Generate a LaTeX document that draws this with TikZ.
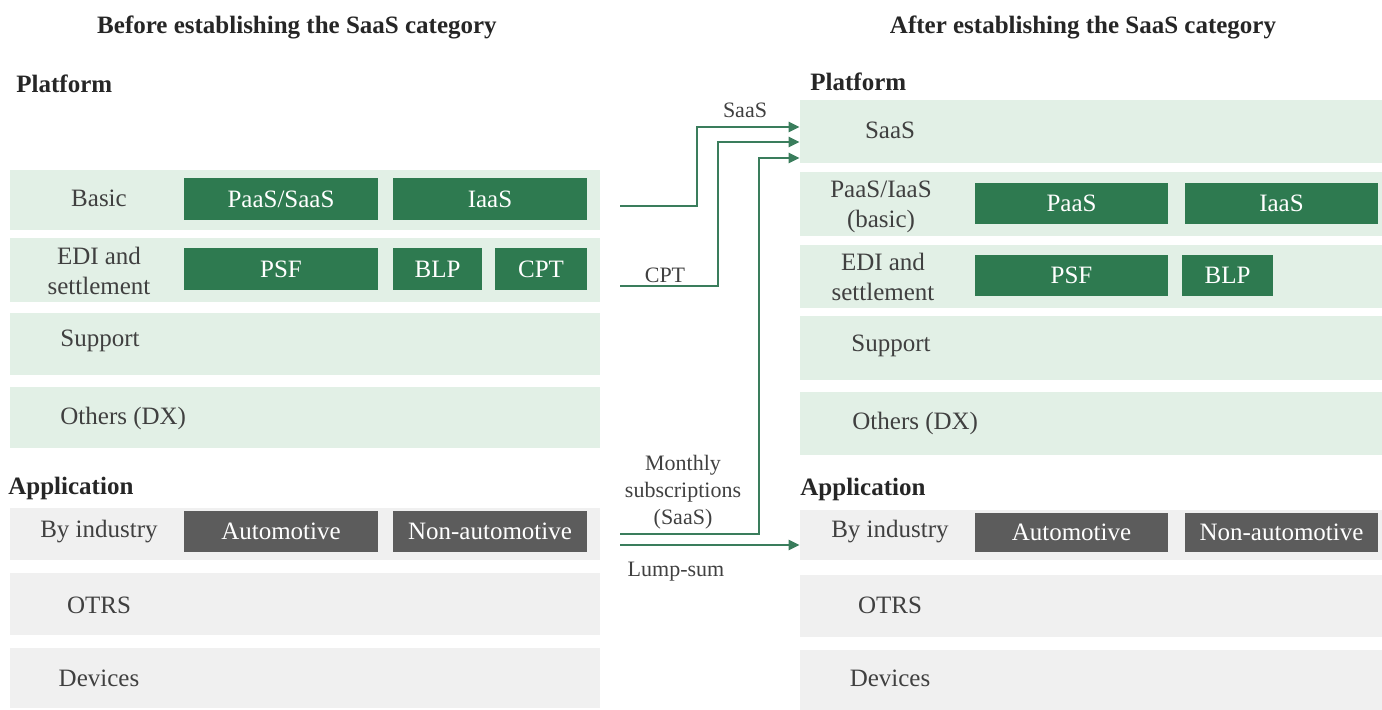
\documentclass[tikz,border=0pt]{standalone}
\usepackage{fontspec}
\setmainfont{Liberation Serif}
\usetikzlibrary{arrows.meta,fit}

\definecolor{bandgreen}{RGB}{226,240,230}
\definecolor{bandgrey}{RGB}{240,240,240}
\definecolor{tilegreen}{RGB}{46,122,80}
\definecolor{tilegrey}{RGB}{92,92,92}
\definecolor{flowgreen}{RGB}{58,125,92}
\definecolor{inkgrey}{RGB}{64,64,64}

\tikzset{
  band/.style={fill=bandgreen, draw=none, inner sep=0pt},
  greyband/.style={fill=bandgrey, draw=none, inner sep=0pt},
  tile/.style={fill=tilegreen, draw=none, inner sep=0pt,
    label={[text=white, inner sep=0pt]center:#1}},
  greytile/.style={fill=tilegrey, draw=none, inner sep=0pt,
    label={[text=white, inner sep=0pt]center:#1}},
  rowlabel/.style={text=inkgrey, align=center, inner sep=1pt},
  heading/.style={text=black!85, font=\fontsize{12.5}{14}\selectfont\bfseries, inner sep=0pt},
  flowlabel/.style={text=inkgrey, align=center, font=\fontsize{11}{13.5}\selectfont, inner sep=1pt},
  flow/.style={draw=flowgreen, line width=1.4pt,
    -{Triangle[length=5.5pt,width=5pt]}},
}

\begin{document}
\begin{tikzpicture}[x=0.5pt, y=-0.5pt, font=\fontsize{12.5}{15}\selectfont]
\useasboundingbox (0,0) rectangle (1382,710);

% ---------- left column: before ----------
\node[heading] (ltitle) at (297,27) {Before establishing the SaaS category};
\node[heading, anchor=west] (lplat) at (16,84) {Platform};

\node[band, fit={(10,170) (600,230)}] (lbasic) {};
\node[rowlabel] (lbasiclbl) at (99,198) {Basic};
\node[tile=PaaS/SaaS, fit={(184,178) (378,220)}] (lpaas) {};
\node[tile=IaaS, fit={(393,178) (587,220)}] (liaas) {};

\node[band, fit={(10,238) (600,302)}] (ledi) {};
\node[rowlabel] (ledilbl) at (99,271) {EDI and\\settlement};
\node[tile=PSF, fit={(184,248) (378,290)}] (lpsf) {};
\node[tile=BLP, fit={(393,248) (482,290)}] (lblp) {};
\node[tile=CPT, fit={(495,248) (587,290)}] (lcpt) {};

\node[band, fit={(10,313) (600,375)}] (lsup) {};
\node[rowlabel] (lsuplbl) at (100,341) {Support};

\node[band, fit={(10,387) (600,448)}] (loth) {};
\node[rowlabel, anchor=west] (lothlbl) at (58,418) {Others (DX)};

\node[heading, anchor=west] (lapp) at (8,488) {Application};

\node[greyband, fit={(10,508) (600,560)}] (lind) {};
\node[rowlabel] (lindlbl) at (99,532) {By industry};
\node[greytile=Automotive, fit={(184,511) (378,552)}] (lauto) {};
\node[greytile=Non-automotive, fit={(393,511) (587,552)}] (lnonauto) {};

\node[greyband, fit={(10,573) (600,635)}] (lotrs) {};
\node[rowlabel] (lotrslbl) at (99,605) {OTRS};

\node[greyband, fit={(10,648) (600,708)}] (ldev) {};
\node[rowlabel] (ldevlbl) at (99,678) {Devices};

% ---------- right column: after ----------
\node[heading] (rtitle) at (1083,27) {After establishing the SaaS category};
\node[heading, anchor=west] (rplat) at (810,82) {Platform};

\node[band, fit={(800,100) (1382,163)}] (rsaas) {};
\node[rowlabel] (rsaaslbl) at (890,130) {SaaS};

\node[band, fit={(800,172) (1382,236)}] (rbasic) {};
\node[rowlabel] (rbasiclbl) at (881,207) {PaaS/IaaS\\(basic)};
\node[tile=PaaS, fit={(975,183) (1168,224)}] (rpaas) {};
\node[tile=IaaS, fit={(1185,183) (1378,224)}] (riaas) {};

\node[band, fit={(800,245) (1382,308)}] (redi) {};
\node[rowlabel] (redilbl) at (883,277) {EDI and\\settlement};
\node[tile=PSF, fit={(975,255) (1168,296)}] (rpsf) {};
\node[tile=BLP, fit={(1182,255) (1273,296)}] (rblp) {};

\node[band, fit={(800,316) (1382,380)}] (rsup) {};
\node[rowlabel] (rsuplbl) at (891,346) {Support};

\node[band, fit={(800,392) (1382,455)}] (roth) {};
\node[rowlabel, anchor=west] (rothlbl) at (850,423) {Others (DX)};

\node[heading, anchor=west] (rapp) at (800,489) {Application};

\node[greyband, fit={(800,510) (1382,560)}] (rind) {};
\node[rowlabel] (rindlbl) at (890,532) {By industry};
\node[greytile=Automotive, fit={(975,513) (1168,552)}] (rauto) {};
\node[greytile=Non-automotive, fit={(1185,513) (1378,552)}] (rnonauto) {};

\node[greyband, fit={(800,575) (1382,637)}] (rotrs) {};
\node[rowlabel] (rotrslbl) at (890,605) {OTRS};

\node[greyband, fit={(800,650) (1382,710)}] (rdev) {};
\node[rowlabel] (rdevlbl) at (890,678) {Devices};

% ---------- flows between the two columns ----------
\coordinate (fbasic) at (620,206);
\coordinate (fcpt)   at (620,286);
\coordinate (fsub)   at (620,534);
\coordinate (flump)  at (620,545);
\coordinate (kbasic) at (697,127);
\coordinate (kcpt)   at (718,142);
\coordinate (ksub)   at (759,158);

\draw[flow] (fbasic) -| (kbasic) -- (rsaas.west |- kbasic);
\draw[flow] (fcpt) -| (kcpt) -- (rsaas.west |- kcpt);
\draw[flow] (fsub) -| (ksub) -- (rsaas.west |- ksub);
\draw[flow] (flump) -- (rind.west |- flump);

\node[flowlabel] (tsaas) at (745,110) {SaaS};
\node[flowlabel] (tcpt) at (665,275) {CPT};
\node[flowlabel] (tsub) at (683,492) {Monthly\\subscriptions\\(SaaS)};
\node[flowlabel] (tlump) at (676,572) {Lump-sum};
\end{tikzpicture}
\end{document}
